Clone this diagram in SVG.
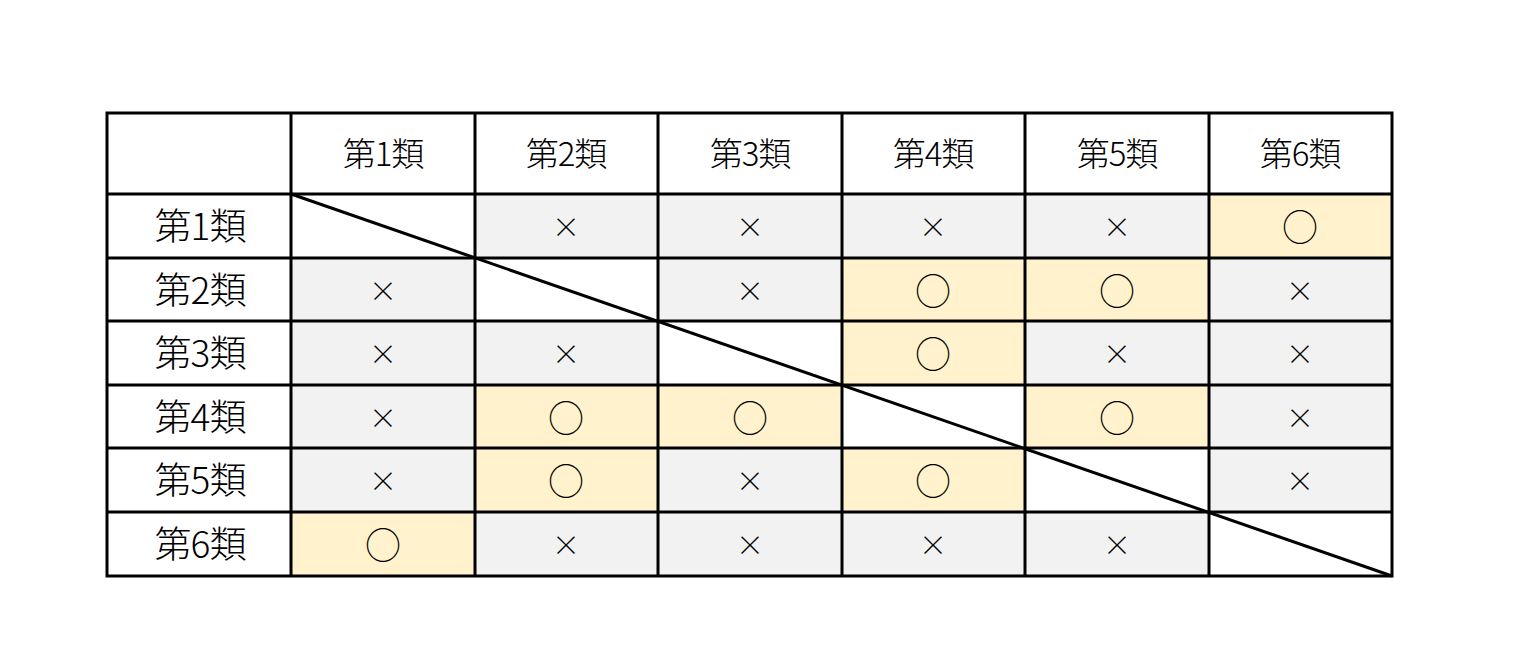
<svg xmlns="http://www.w3.org/2000/svg" width="1520" height="668" viewBox="0 0 1520 668">
<style>
text{font-family:"Noto Sans CJK JP","Noto Sans",sans-serif;font-weight:300;text-anchor:middle;dominant-baseline:central;fill:#000}
.h{font-size:33px;letter-spacing:-1px}.r{font-size:37px;letter-spacing:-1px}.x{font-size:28px}.o{font-size:36px}
.g{fill:#f2f2f2}.y{fill:#fff2cc}
.l{stroke:#000;stroke-width:3;fill:none}
</style>
<rect x="0" y="0" width="1520" height="668" fill="#fff"/>
<g id="cells">
<rect class="g" x="475" y="194" width="183" height="64"/><rect class="g" x="658" y="194" width="184" height="64"/><rect class="g" x="842" y="194" width="183" height="64"/><rect class="g" x="1025" y="194" width="184" height="64"/><rect class="y" x="1209" y="194" width="183" height="64"/>
<rect class="g" x="291" y="258" width="184" height="63"/><rect class="g" x="658" y="258" width="184" height="63"/><rect class="y" x="842" y="258" width="183" height="63"/><rect class="y" x="1025" y="258" width="184" height="63"/><rect class="g" x="1209" y="258" width="183" height="63"/>
<rect class="g" x="291" y="321" width="184" height="64"/><rect class="g" x="475" y="321" width="183" height="64"/><rect class="y" x="842" y="321" width="183" height="64"/><rect class="g" x="1025" y="321" width="184" height="64"/><rect class="g" x="1209" y="321" width="183" height="64"/>
<rect class="g" x="291" y="385" width="184" height="63"/><rect class="y" x="475" y="385" width="183" height="63"/><rect class="y" x="658" y="385" width="184" height="63"/><rect class="y" x="1025" y="385" width="184" height="63"/><rect class="g" x="1209" y="385" width="183" height="63"/>
<rect class="g" x="291" y="448" width="184" height="64"/><rect class="y" x="475" y="448" width="183" height="64"/><rect class="g" x="658" y="448" width="184" height="64"/><rect class="y" x="842" y="448" width="183" height="64"/><rect class="g" x="1209" y="448" width="183" height="64"/>
<rect class="y" x="291" y="512" width="184" height="64"/><rect class="g" x="475" y="512" width="183" height="64"/><rect class="g" x="658" y="512" width="184" height="64"/><rect class="g" x="842" y="512" width="183" height="64"/><rect class="g" x="1025" y="512" width="184" height="64"/>
</g>
<g id="grid">
<rect class="l" x="107" y="113" width="1285" height="463"/>
<path class="l" d="M291 113V576M475 113V576M658 113V576M842 113V576M1025 113V576M1209 113V576M107 194H1392M107 258H1392M107 321H1392M107 385H1392M107 448H1392M107 512H1392"/>
<path class="l" d="M291 194L1392 576"/>
</g>
<g id="headers">
<text class="h" x="383" y="152">第1類</text><text class="h" x="566" y="152">第2類</text><text class="h" x="750" y="152">第3類</text><text class="h" x="933" y="152">第4類</text><text class="h" x="1117" y="152">第5類</text><text class="h" x="1300" y="152">第6類</text>
<text class="r" x="200" y="224">第1類</text><text class="r" x="200" y="288">第2類</text><text class="r" x="200" y="351">第3類</text><text class="r" x="200" y="415">第4類</text><text class="r" x="200" y="478">第5類</text><text class="r" x="200" y="542">第6類</text>
</g>
<g id="marks">
<text class="x" x="566" y="226">×</text><text class="x" x="750" y="226">×</text><text class="x" x="933" y="226">×</text><text class="x" x="1117" y="226">×</text><text class="o" x="1300" y="225">○</text>
<text class="x" x="383" y="290">×</text><text class="x" x="750" y="290">×</text><text class="o" x="933" y="289">○</text><text class="o" x="1117" y="289">○</text><text class="x" x="1300" y="290">×</text>
<text class="x" x="383" y="353">×</text><text class="x" x="566" y="353">×</text><text class="o" x="933" y="352">○</text><text class="x" x="1117" y="353">×</text><text class="x" x="1300" y="353">×</text>
<text class="x" x="383" y="417">×</text><text class="o" x="566" y="416">○</text><text class="o" x="750" y="416">○</text><text class="o" x="1117" y="416">○</text><text class="x" x="1300" y="417">×</text>
<text class="x" x="383" y="480">×</text><text class="o" x="566" y="479">○</text><text class="x" x="750" y="480">×</text><text class="o" x="933" y="479">○</text><text class="x" x="1300" y="480">×</text>
<text class="o" x="383" y="543">○</text><text class="x" x="566" y="544">×</text><text class="x" x="750" y="544">×</text><text class="x" x="933" y="544">×</text><text class="x" x="1117" y="544">×</text>
</g>
</svg>
